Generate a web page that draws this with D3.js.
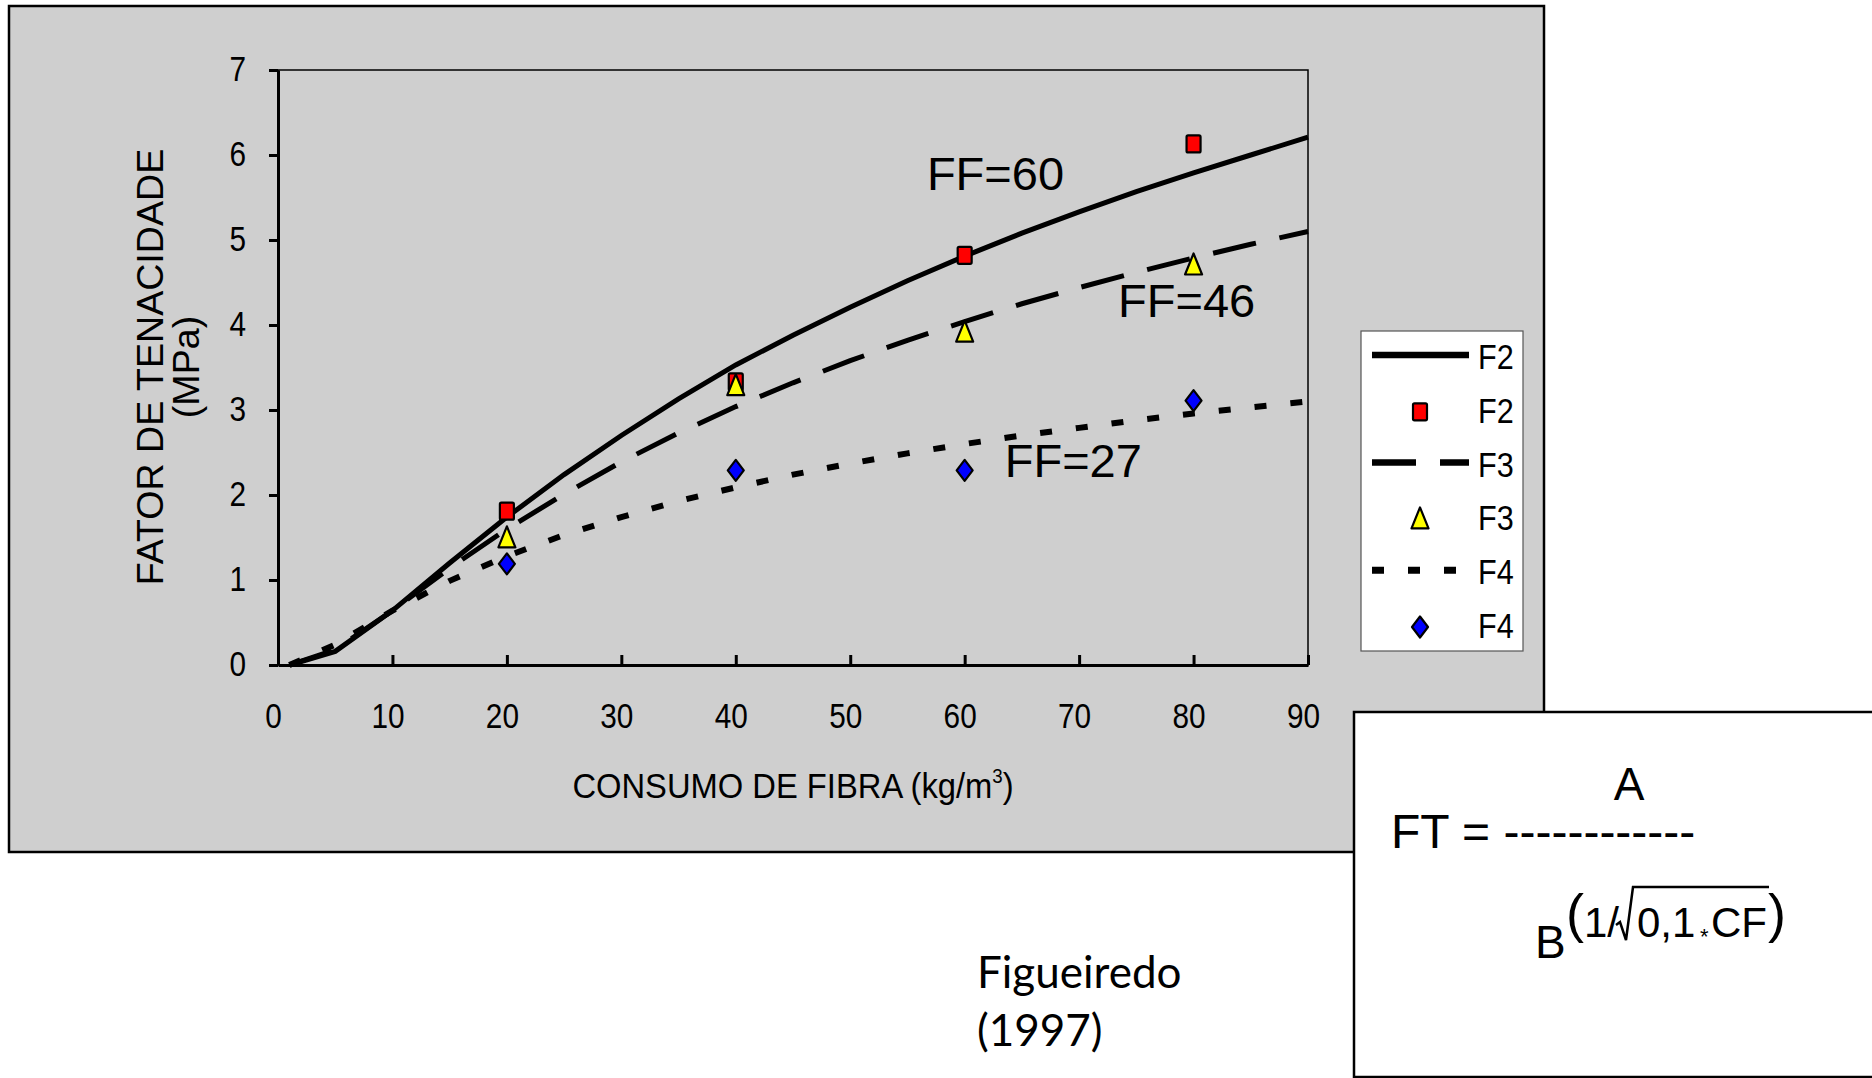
<!DOCTYPE html>
<html>
<head>
<meta charset="utf-8">
<script src="https://cdn.jsdelivr.net/npm/d3@7"></script>
<style>
html, body { margin: 0; padding: 0; background: #ffffff; overflow: hidden; }
svg { display: block; }
</style>
</head>
<body>
<div id="container"></div>
<script>
"use strict";

//fibre consumption (kg/m3) where the fitted curves were sampled
var consumo = [1, 5, 10, 15, 20, 25, 30, 35, 40, 45, 50, 55, 60, 65, 70, 75, 80, 85, 90];

//fitted curves
var f2Curve = [0.0, 0.16, 0.64, 1.20, 1.74, 2.24, 2.70, 3.13, 3.53, 3.88, 4.21, 4.52, 4.81, 5.08, 5.33, 5.57, 5.79, 6.00, 6.21];
var f3Curve = [0.0, 0.18, 0.64, 1.14, 1.60, 2.01, 2.39, 2.73, 3.04, 3.32, 3.58, 3.82, 4.04, 4.25, 4.44, 4.62, 4.79, 4.95, 5.10];
var f4Curve = [0.0, 0.24, 0.64, 0.99, 1.28, 1.53, 1.74, 1.93, 2.09, 2.24, 2.37, 2.49, 2.60, 2.70, 2.79, 2.88, 2.96, 3.03, 3.10];

//measured points
var ensaioX = [20, 40, 60, 80];
var f2Points = [1.81, 3.33, 4.82, 6.13];
var f3Points = [1.49, 3.28, 3.91, 4.70];
var f4Points = [1.19, 2.29, 2.29, 3.11];

var xTicks = [0, 10, 20, 30, 40, 50, 60, 70, 80, 90];
var yTicks = [0, 1, 2, 3, 4, 5, 6, 7];

var legendNames = ["F2", "F2", "F3", "F3", "F4", "F4"];

//curve labels and where they sit (in chart units)
var ffLabels = ["FF=60", "FF=46", "FF=27"];
var ffLabelCF = [56.7, 73.4, 63.5];
var ffLabelFT = [5.59, 4.09, 2.21];

var width = 1872;
var height = 1078;
var panelColour = "#cfcfcf";
var arial = "'Liberation Sans', Arial, sans-serif";

var svg = d3.select("#container").append("svg")
    .attr("width", width)
    .attr("height", height)
    .style("background", "#ffffff");

//grey chart area
svg.append("rect")
    .attr("x", 9).attr("y", 6)
    .attr("width", 1535).attr("height", 846)
    .style("fill", panelColour)
    .style("stroke", "#000")
    .style("stroke-width", 2.5);

var x = d3.scaleLinear().domain([0, 90]).range([278, 1308]);
var y = d3.scaleLinear().domain([0, 7]).range([665, 70]);

//thin frame on the top and right of the plot
svg.append("rect")
    .attr("x", x(0)).attr("y", y(7))
    .attr("width", x(90) - x(0)).attr("height", y(0) - y(7))
    .style("fill", "none")
    .style("stroke", "#000")
    .style("stroke-width", 1.5);

//y axis, ticks pointing out
var yAxis = svg.append("g")
    .attr("transform", "translate(" + x(0) + ",0)")
    .call(d3.axisLeft(y).tickValues(yTicks).tickSizeInner(9).tickSizeOuter(0).tickFormat(d3.format("d")));

yAxis.select(".domain").style("stroke-width", 3);
yAxis.selectAll(".tick line").style("stroke-width", 3);
yAxis.selectAll("text")
    .attr("x", 0).attr("dy", "0.29em")
    .attr("transform", "translate(-32,0) scale(0.85,1)")
    .style("font-family", arial)
    .style("font-size", "35px")
    .style("fill", "#000");

//x axis, ticks pointing in
var xAxis = svg.append("g")
    .attr("transform", "translate(0," + y(0) + ")")
    .call(d3.axisBottom(x).tickValues(xTicks).tickSizeInner(-10).tickSizeOuter(0).tickFormat(d3.format("d")));

xAxis.select(".domain").style("stroke-width", 3);
xAxis.selectAll(".tick line").style("stroke-width", 3);
xAxis.selectAll("text")
    .attr("y", 0).attr("dy", 0)
    .attr("transform", "translate(-5,63) scale(0.85,1)")
    .style("font-family", arial)
    .style("font-size", "35px")
    .style("fill", "#000");

//axis titles
var xTitle = svg.append("text")
    .attr("transform", "translate(" + ((x(0) + x(90)) / 2) + ",798) scale(0.935,1)")
    .attr("text-anchor", "middle")
    .style("font-family", arial)
    .style("font-size", "35px");
xTitle.append("tspan").text("CONSUMO DE FIBRA (kg/m");
xTitle.append("tspan").attr("dy", "-0.75em").style("font-size", "20px").text("3");
xTitle.append("tspan").attr("dy", "0.43em").text(")");

svg.append("text")
    .attr("transform", "translate(163,367) rotate(-90)")
    .attr("text-anchor", "middle")
    .style("font-family", arial)
    .style("font-size", "37.6px")
    .text("FATOR DE TENACIDADE");

svg.append("text")
    .attr("transform", "translate(199,367) rotate(-90)")
    .attr("text-anchor", "middle")
    .style("font-family", arial)
    .style("font-size", "37.6px")
    .text("(MPa)");

//curves
var line = d3.line()
    .x(function (d) { return x(d[0]); })
    .y(function (d) { return y(d[1]); });

var curves = [
    { values: f2Curve, dash: null, w: 5 },
    { values: f3Curve, dash: "44,24", w: 5 },
    { values: f4Curve, dash: "12,24", w: 6 }
];

curves.forEach(function (c) {
    svg.append("path")
        .datum(consumo.map(function (cf, i) { return [cf, c.values[i]]; }))
        .attr("d", line)
        .style("fill", "none")
        .style("stroke", "#000")
        .style("stroke-width", c.w)
        .style("stroke-dasharray", c.dash);
});

//marker shapes
function drawMarker(g, kind, cx, cy) {
    var m;
    if (kind === "square") {
        m = g.append("rect")
            .attr("x", cx - 7).attr("y", cy - 8.5)
            .attr("width", 14).attr("height", 17)
            .attr("rx", 1.5)
            .style("fill", "#ff0000");
    } else if (kind === "triangle") {
        m = g.append("path")
            .attr("d", "M" + cx + "," + (cy - 12) + "L" + (cx + 8.5) + "," + (cy + 9) + "L" + (cx - 8.5) + "," + (cy + 9) + "Z")
            .style("fill", "#ffff00");
    } else {
        m = g.append("path")
            .attr("d", "M" + cx + "," + (cy - 10.5) + "L" + (cx + 8) + "," + cy + "L" + cx + "," + (cy + 10.5) + "L" + (cx - 8) + "," + cy + "Z")
            .style("fill", "#0000ff");
    }
    m.style("stroke", "#000")
        .style("stroke-width", 2.2)
        .style("stroke-linejoin", "round");
}

var pointSets = [
    { values: f2Points, kind: "square" },
    { values: f3Points, kind: "triangle" },
    { values: f4Points, kind: "diamond" }
];

var markerLayer = svg.append("g");
pointSets.forEach(function (p) {
    p.values.forEach(function (v, i) {
        drawMarker(markerLayer, p.kind, x(ensaioX[i]), y(v));
    });
});

//curve labels
ffLabels.forEach(function (t, i) {
    svg.append("text")
        .attr("x", x(ffLabelCF[i]))
        .attr("y", y(ffLabelFT[i]))
        .style("font-family", arial)
        .style("font-size", "47px")
        .text(t);
});

//legend
var legend = svg.append("g");
legend.append("rect")
    .attr("x", 1361).attr("y", 331)
    .attr("width", 162).attr("height", 320)
    .style("fill", "#ffffff")
    .style("stroke", "#555")
    .style("stroke-width", 1.2);

var legendKinds = ["line", "square", "line", "triangle", "line", "diamond"];
var legendDash = [null, null, "44,24", null, "12,24", null];

legendNames.forEach(function (name, i) {
    var rowY = 355 + i * 53.8;
    if (legendKinds[i] === "line") {
        legend.append("line")
            .attr("x1", 1372).attr("x2", 1469)
            .attr("y1", rowY).attr("y2", rowY)
            .style("stroke", "#000")
            .style("stroke-width", i === 4 ? 7 : 6.5)
            .style("stroke-dasharray", legendDash[i]);
    } else {
        drawMarker(legend, legendKinds[i], 1420, rowY + 3);
    }
    legend.append("text")
        .attr("x", 0)
        .attr("transform", "translate(1478," + (rowY + 14) + ") scale(0.85,1)")
        .style("font-family", arial)
        .style("font-size", "36px")
        .text(name);
});

//formula box
svg.append("rect")
    .attr("x", 1354).attr("y", 712)
    .attr("width", 600).attr("height", 365)
    .style("fill", "#ffffff")
    .style("stroke", "#000")
    .style("stroke-width", 2.5);

var formula = svg.append("g")
    .style("font-family", arial)
    .style("fill", "#000");

formula.append("text")
    .attr("x", 1629).attr("y", 800)
    .attr("text-anchor", "middle")
    .style("font-size", "46px")
    .text("A");

formula.append("text")
    .attr("x", 1391).attr("y", 848)
    .style("font-size", "48px")
    .text("FT = ------------");

formula.append("text")
    .attr("x", 1535).attr("y", 958)
    .style("font-size", "46px")
    .text("B");

//exponent 1/sqrt(0,1*CF)
formula.append("text").attr("x", 1566).attr("y", 932).style("font-size", "54px").text("(");
formula.append("text").attr("x", 1584).attr("y", 937).style("font-size", "42px").text("1/");
formula.append("text").attr("x", 1637).attr("y", 937).style("font-size", "42px").text("0,1");
formula.append("text").attr("x", 1700).attr("y", 944).style("font-size", "22px").text("*");
formula.append("text").attr("x", 1711).attr("y", 937).style("font-size", "42px").text("CF");
formula.append("text").attr("x", 1768).attr("y", 932).style("font-size", "54px").text(")");

//radical sign over 0,1*CF
formula.append("path")
    .attr("d", "M1616,925L1620,922L1626,940L1633,887L1769,887")
    .style("fill", "none")
    .style("stroke", "#000")
    .style("stroke-width", 2.5)
    .style("stroke-linejoin", "miter");

//source note
var fonte = svg.append("text")
    .style("font-family", "Lato, 'Open Sans', sans-serif")
    .style("font-size", "44px")
    .style("fill", "#000");
fonte.append("tspan").attr("x", 977).attr("y", 988).text("Figueiredo");
fonte.append("tspan").attr("x", 977).attr("y", 1046).text("(1997)");
</script>
</body>
</html>
